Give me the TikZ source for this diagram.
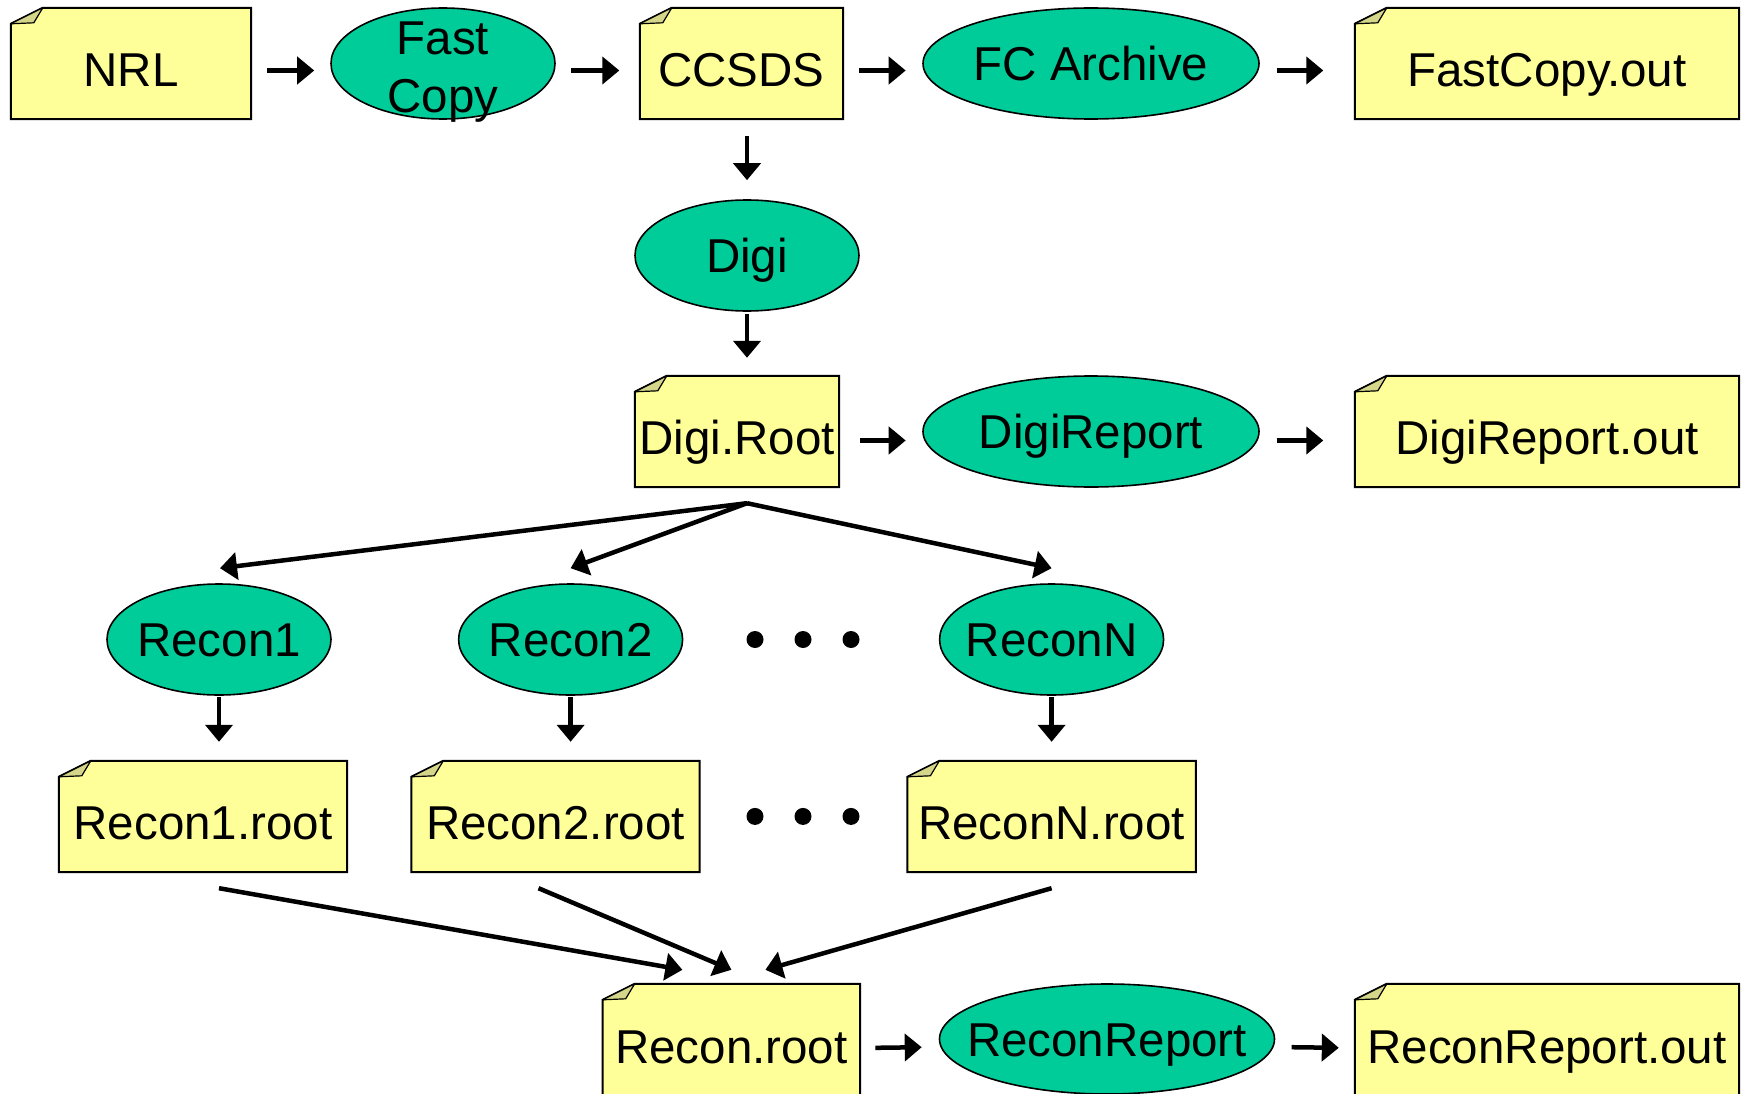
\documentclass[tikz,border=0pt]{standalone}
\usepackage{fontspec}
\setmainfont{Liberation Sans}
\usetikzlibrary{arrows.meta,shapes.geometric,backgrounds,calc}
\definecolor{noteyellow}{HTML}{FFFF99}
\definecolor{procgreen}{HTML}{00CC99}
\definecolor{foldkhaki}{RGB}{214,214,138}
\begin{document}
\begin{tikzpicture}[x=1pt,y=-1pt,
  lbl/.style={font=\fontsize{47.5}{58}\selectfont},
  note/.style={lbl, rectangle, inner sep=0pt, minimum height=111pt, text height=46pt, text depth=0pt},
  procbase/.style={lbl, ellipse, draw, line width=1.6pt, fill=procgreen, inner sep=0pt, inner xsep=-40pt, minimum height=111pt},
  proc/.style={procbase, text height=34pt, text depth=0pt},
  arr/.style={-{Triangle[length=17pt,width=27pt]}, line width=4.5pt},
  ]
\useasboundingbox (0,0) rectangle (1744,1094);
\clip (0,0) rectangle (1744,1094);

% nodes
\node[note, minimum width=240pt] (NRL) at (131,63.5) {NRL};
\node[procbase, minimum width=224pt, align=center, inner ysep=-40pt, text height=98pt, text depth=0pt] (Fast) at (443,63.5) {Fast\\Copy};
\node[note, minimum width=203pt] (CCSDS) at (741.5,63.5) {CCSDS};
\node[proc, minimum width=336pt] (FC) at (1091,63.5) {FC Archive};
\node[note, minimum width=384pt] (FCout) at (1547,63.5) {FastCopy.out};
\node[proc, minimum width=224pt] (Digi) at (747,255.5) {Digi};
\node[note, minimum width=204pt] (DigiRoot) at (737,431.5) {Digi.Root};
\node[proc, minimum width=336pt] (DigiReport) at (1091,431.5) {DigiReport};
\node[note, minimum width=384pt] (DROut) at (1547,431.5) {DigiReport.out};
\node[proc, minimum width=224pt] (Recon1) at (219,639.5) {Recon1};
\node[proc, minimum width=224pt] (Recon2) at (570.6,639.5) {Recon2};
\node[proc, minimum width=224pt] (ReconN) at (1051.6,639.5) {ReconN};
\node[note, minimum width=288pt] (R1root) at (203,816.5) {Recon1.root};
\node[note, minimum width=288pt] (R2root) at (555.5,816.5) {Recon2.root};
\node[note, minimum width=288pt] (RNroot) at (1051.6,816.5) {ReconN.root};
\node[note, minimum width=257pt, minimum height=112pt] (Rroot) at (731.4,1040) {Recon.root};
\node[proc, minimum width=335pt, minimum height=110pt] (RReport) at (1107,1039) {ReconReport};
\node[note, minimum width=384pt, minimum height=112pt] (RROut) at (1547,1040) {ReconReport.out};

% note outlines
\begin{scope}[on background layer]
\fill[white] (0,0) rectangle (1744,1094);
\foreach \n in {NRL,CCSDS,FCout,DigiRoot,DROut,R1root,R2root,RNroot,Rroot,RROut}{
  \filldraw[fill=noteyellow, line width=2pt, line join=miter]
    ([shift={(0,16)}]\n.north west) -- ([shift={(32,0)}]\n.north west) -- (\n.north east)
    -- (\n.south east) -- (\n.south west) -- cycle;
  \filldraw[fill=foldkhaki, line width=1.2pt, line join=round]
    ([shift={(0,16)}]\n.north west) -- ([shift={(32,0)}]\n.north west) -- ([shift={(23,15)}]\n.north west) -- cycle;
}
\end{scope}

% row 1 arrows
\draw[arr, shorten <=16pt, shorten >=16pt] ([yshift=-7pt]NRL.east) -- ([yshift=-7pt]Fast.west);
\draw[arr, shorten <=15.6pt, shorten >=20.5pt] ([yshift=-7pt]Fast.east) -- ([yshift=-7pt]CCSDS.west);
\draw[arr, shorten <=15.6pt, shorten >=16.5pt] ([yshift=-7pt]CCSDS.east) -- ([yshift=-7pt]FC.west);
\draw[arr, shorten <=16.7pt, shorten >=31.5pt] ([yshift=-7pt]FC.east) -- ([yshift=-7pt]FCout.west);

% vertical
\draw[arr, shorten <=17pt, shorten >=19pt] (Digi.north |- CCSDS.south) -- (Digi.north);
\draw[arr, shorten <=2pt, shorten >=18pt] (Digi.south) -- (Digi.south |- DigiRoot.north);

% row 2 arrows
\draw[arr, shorten <=20.7pt, shorten >=16.5pt] ([yshift=-9pt]DigiRoot.east) -- ([yshift=-9pt]DigiReport.west);
\draw[arr, shorten <=16.7pt, shorten >=31.5pt] ([yshift=-9pt]DigiReport.east) -- ([yshift=-9pt]DROut.west);

% fan out
\coordinate (split) at ($(Digi.south |- DigiRoot.south)+(0,16)$);
\draw[arr] (split) -- ($(Recon1.north)+(1,-15)$);
\draw[arr] (split) -- ($(Recon2.north)+(0,-15)$);
\draw[arr] (split) -- ($(ReconN.north)+(0,-15)$);

% down arrows
\draw[arr, shorten <=1pt, shorten >=19pt] (Recon1.south) -- (Recon1.south |- R1root.north);
\draw[arr, shorten <=1pt, shorten >=19pt] (Recon2.south) -- (Recon2.south |- R2root.north);
\draw[arr, shorten <=1pt, shorten >=19pt] (ReconN.south) -- (ReconN.south |- RNroot.north);

% converging
\draw[arr] ($(Recon1.south |- R1root.south)+(0,16)$) -- ($(Rroot.north)+(-49,-14)$);
\draw[arr] ($(R2root.south)+(-17,16)$) -- ($(Rroot.north)+(0,-14)$);
\draw[arr] ($(RNroot.south)+(0,16)$) -- ($(Rroot.north)+(34,-14)$);

% row 4 arrows
\draw[arr, shorten <=15.3pt, shorten >=17pt] ([yshift=-8pt]Rroot.east) -- ([yshift=-8pt]RReport.west);
\draw[arr, shorten <=16.3pt, shorten >=16pt] ([yshift=-8pt]RReport.east) -- ([yshift=-8pt]RROut.west);

% ellipsis dots
\foreach \x in {755,803,851}{
  \fill (\x,639.5) circle (8.5pt);
  \fill (\x,816.4) circle (8.5pt);
}
\end{tikzpicture}
\end{document}
